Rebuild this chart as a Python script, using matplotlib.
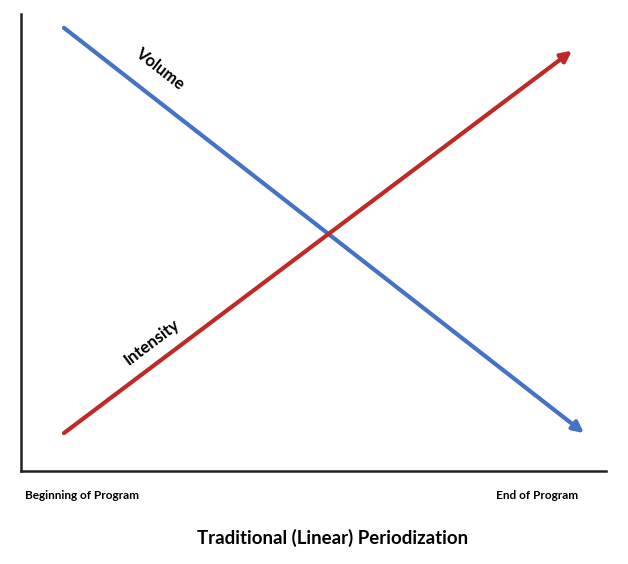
import matplotlib
matplotlib.use("Agg")
import matplotlib.pyplot as plt

# program timeline (0 = beginning, 1 = end)
vol_x = [0.0, 1.0]
volume = [9.7, 0.83]
int_x = [0.0, 0.977]
intensity = [0.83, 9.2]

tick_pos = [0.035, 0.91]
tick_labels = ["Beginning of Program", "End of Program"]

plt.rcParams['font.family'] = ['Lato', 'DejaVu Sans']

fig = plt.figure(figsize=(6.28, 5.64), dpi=100)
ax = fig.add_axes([0.0334, 0.1649, 0.9315, 0.810])
ax.set_xlim(-0.0827, 1.0423)
ax.set_ylim(0, 10)

for s in ['top', 'right']:
    ax.spines[s].set_visible(False)
for s in ['left', 'bottom']:
    ax.spines[s].set_linewidth(1.8)
    ax.spines[s].set_color('#222222')

blue = '#4472C4'
red = '#BF2A26'
ax.annotate('', xy=(vol_x[1], volume[1]), xytext=(vol_x[0], volume[0]),
            arrowprops=dict(arrowstyle='-|>', color=blue, lw=3, mutation_scale=16,
                            shrinkA=0, shrinkB=0))
ax.annotate('', xy=(int_x[1], intensity[1]), xytext=(int_x[0], intensity[0]),
            arrowprops=dict(arrowstyle='-|>', color=red, lw=3, mutation_scale=16,
                            shrinkA=0, shrinkB=0))

ax.text(0.185, 8.8, 'Volume', rotation=-38, ha='center', va='center',
        fontsize=12, fontweight='bold', rotation_mode='anchor')
ax.text(0.169, 2.82, 'Intensity', rotation=37, ha='center', va='center',
        fontsize=12, fontweight='bold', rotation_mode='anchor')

ax.set_xticks(tick_pos)
ax.set_xticklabels(tick_labels, fontsize=8.5, fontweight='bold')
ax.tick_params(axis='x', length=0, pad=14)
ax.set_yticks([])

fig.text(0.53, 0.046, 'Traditional (Linear) Periodization', ha='center', va='center',
         fontsize=13.4, fontweight='bold')

fig.savefig('out.png', dpi=100)
